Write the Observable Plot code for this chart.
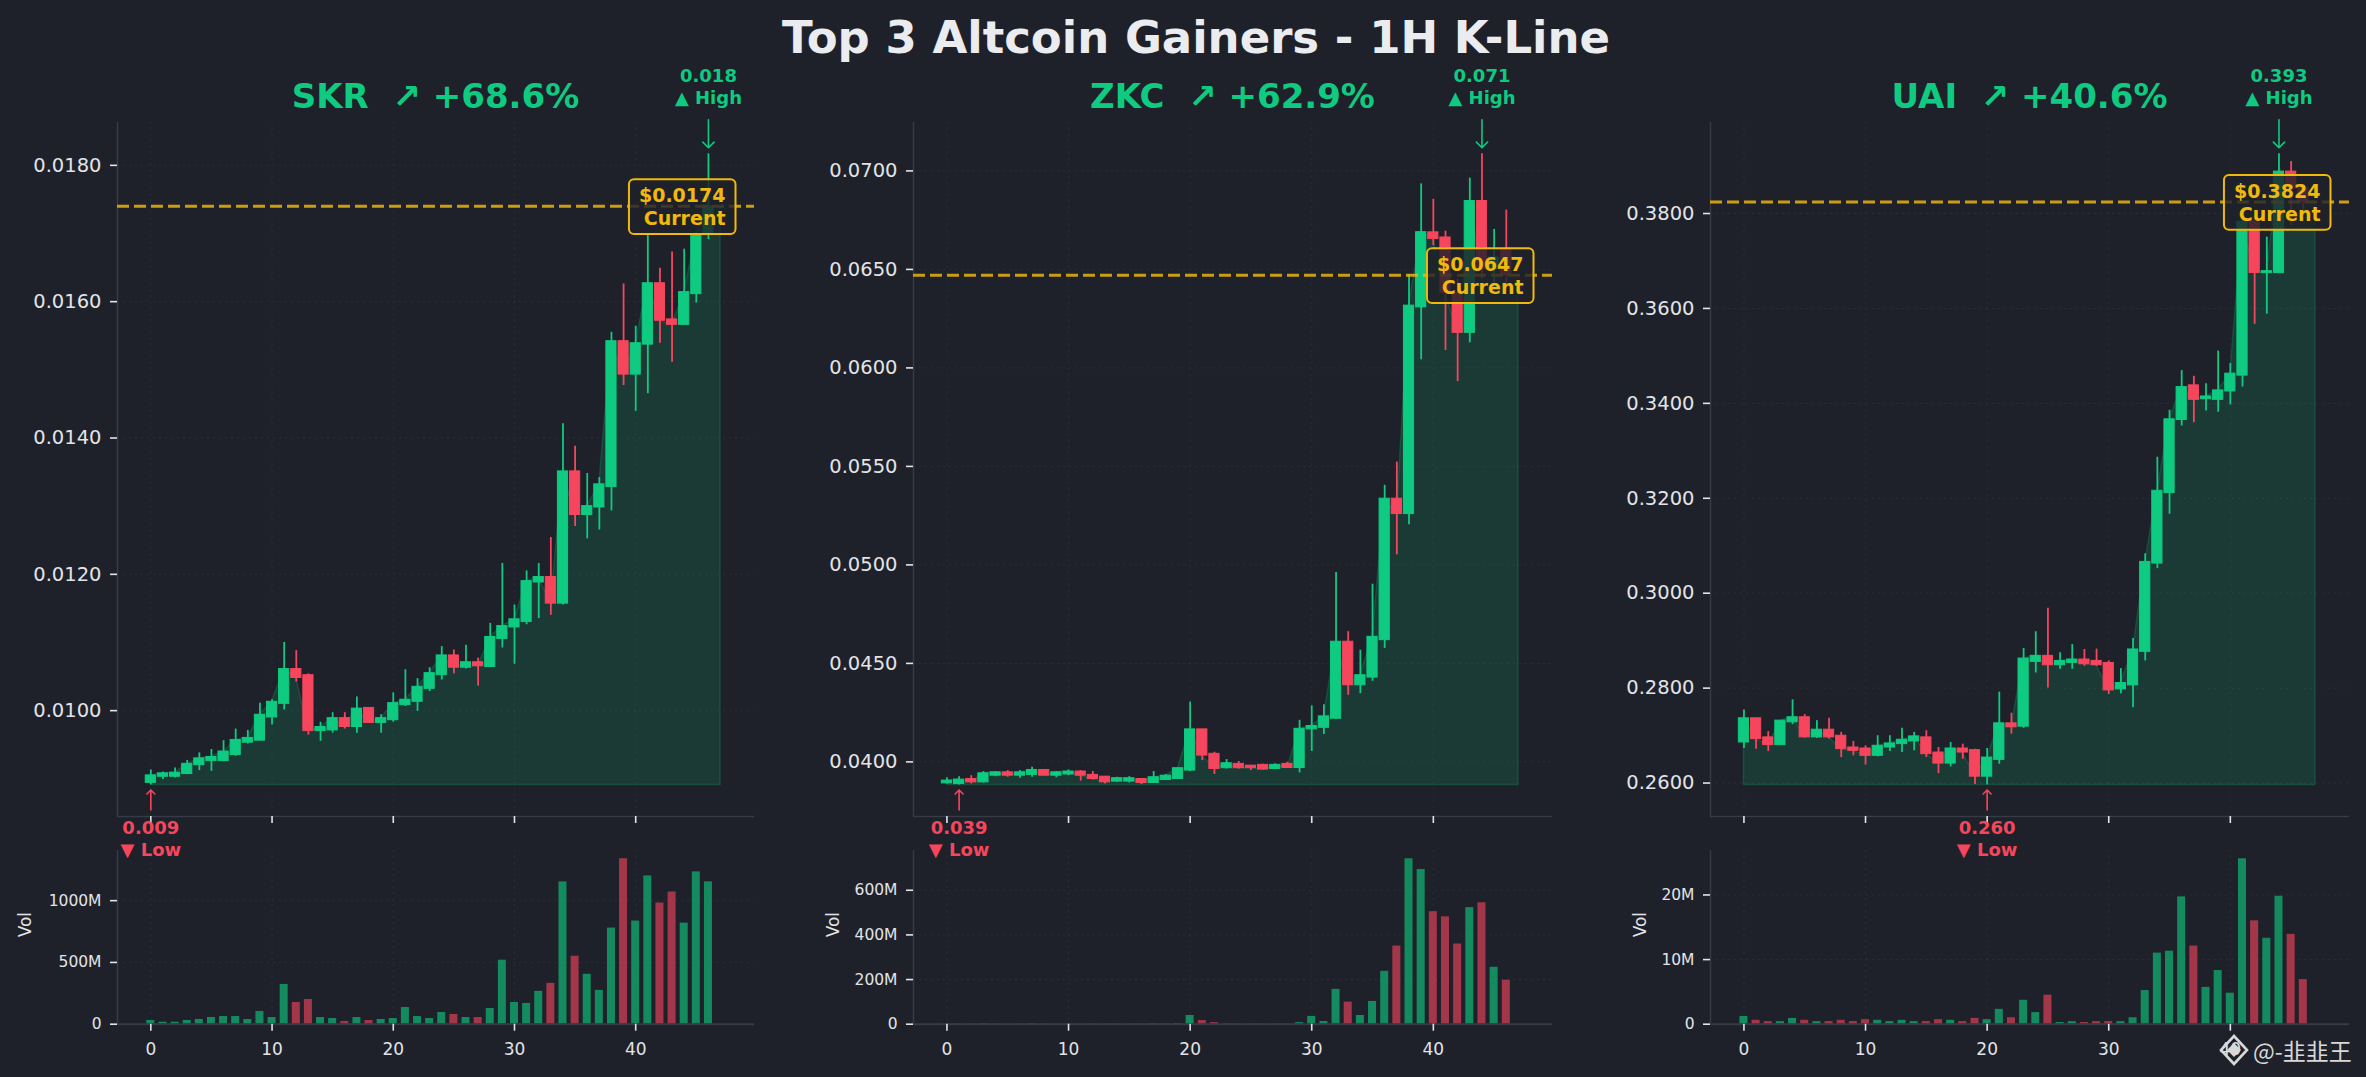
<!DOCTYPE html>
<html>
<head>
<meta charset="utf-8">
<script src="https://cdn.jsdelivr.net/npm/d3@7"></script>
<script src="https://cdn.jsdelivr.net/npm/@observablehq/plot@0.6"></script>
<style>
  html, body { margin: 0; padding: 0; background: #1e2129; }
  #root { position: relative; width: 2366px; height: 1077px; overflow: hidden; background: #1e2129; font-family: "DejaVu Sans", sans-serif; }
  .cell { position: absolute; overflow: visible; }
  #overlay { position: absolute; left: 0; top: 0; pointer-events: none; }
</style>
</head>
<body>
<div id="root"></div>
<script>
// ---------------- DATA ----------------
const chartTitle = "Top 3 Altcoin Gainers - 1H K-Line";
const coinNames = ["SKR", "ZKC", "UAI"];
const coinChanges = ["+68.6%", "+62.9%", "+40.6%"];
const xTicks = [0, 10, 20, 30, 40];

const skrOpen  = [0.00894,0.00903,0.00903,0.00907,0.00920,0.00926,0.00926,0.00935,0.00953,0.00956,0.00990,0.01010,0.01061,0.01052,0.00970,0.00971,0.00989,0.00976,0.01004,0.00982,0.00986,0.01008,0.01013,0.01032,0.01052,0.01081,0.01063,0.01071,0.01064,0.01105,0.01122,0.01130,0.01188,0.01196,0.01157,0.01351,0.01287,0.01298,0.01328,0.01542,0.01493,0.01537,0.01627,0.01574,0.01566,0.01611,0.01698];
const skrHigh  = [0.00913,0.00910,0.00916,0.00927,0.00938,0.00943,0.00956,0.00973,0.00971,0.01011,0.01016,0.01100,0.01088,0.01054,0.00983,0.00997,0.00997,0.01020,0.01004,0.00994,0.01026,0.01060,0.01047,0.01063,0.01094,0.01089,0.01096,0.01077,0.01128,0.01216,0.01155,0.01205,0.01216,0.01254,0.01421,0.01388,0.01348,0.01342,0.01555,0.01626,0.01564,0.01697,0.01649,0.01673,0.01677,0.01701,0.01817];
const skrLow   = [0.00891,0.00899,0.00901,0.00906,0.00912,0.00911,0.00925,0.00933,0.00951,0.00956,0.00979,0.01001,0.01042,0.00964,0.00955,0.00967,0.00973,0.00967,0.00981,0.00967,0.00983,0.01006,0.00999,0.01028,0.01045,0.01054,0.01061,0.01036,0.01064,0.01092,0.01068,0.01126,0.01135,0.01140,0.01155,0.01270,0.01252,0.01265,0.01293,0.01477,0.01439,0.01465,0.01539,0.01511,0.01566,0.01598,0.01691];
const skrClose = [0.00905,0.00908,0.00909,0.00922,0.00930,0.00932,0.00940,0.00957,0.00960,0.00994,0.01013,0.01061,0.01048,0.00970,0.00976,0.00989,0.00976,0.01003,0.00982,0.00989,0.01011,0.01016,0.01035,0.01055,0.01081,0.01063,0.01071,0.01065,0.01108,0.01124,0.01134,0.01190,0.01196,0.01157,0.01351,0.01287,0.01300,0.01332,0.01542,0.01493,0.01539,0.01627,0.01572,0.01566,0.01614,0.01698,0.01740];
const skrVol   = [30,16,16,30,38,54,62,62,38,103,54,322,176,200,54,46,22,54,30,38,46,135,62,46,95,79,54,54,127,518,176,168,266,331,1152,550,404,274,778,1339,835,1200,981,1070,818,1233,1152];
const skrPriceTicks = [0.010, 0.012, 0.014, 0.016, 0.018];
const skrVolTicks = [0, 500, 1000];

const zkcOpen  = [0.03891,0.03888,0.03913,0.03896,0.03930,0.03947,0.03930,0.03934,0.03959,0.03930,0.03936,0.03951,0.03934,0.03925,0.03900,0.03900,0.03913,0.03893,0.03908,0.03913,0.03956,0.04165,0.04041,0.03968,0.03990,0.03981,0.03985,0.03964,0.03990,0.03969,0.04165,0.04173,0.04219,0.04610,0.04389,0.04428,0.04618,0.05336,0.05258,0.06307,0.06688,0.06662,0.06380,0.06178,0.06847,0.06500,0.06600];
const zkcHigh  = [0.03919,0.03925,0.03930,0.03951,0.03951,0.03956,0.03956,0.03973,0.03959,0.03951,0.03959,0.03956,0.03951,0.03925,0.03922,0.03925,0.03913,0.03951,0.03936,0.03968,0.04304,0.04165,0.04049,0.04012,0.04002,0.03981,0.03988,0.03990,0.03998,0.04211,0.04284,0.04290,0.04961,0.04661,0.04567,0.04902,0.05404,0.05522,0.06473,0.06934,0.06856,0.06694,0.06450,0.06963,0.07087,0.06703,0.06801];
const zkcLow   = [0.03888,0.03883,0.03888,0.03893,0.03925,0.03922,0.03917,0.03922,0.03930,0.03919,0.03930,0.03902,0.03908,0.03888,0.03896,0.03893,0.03885,0.03891,0.03905,0.03913,0.03951,0.04007,0.03936,0.03964,0.03964,0.03956,0.03959,0.03961,0.03968,0.03944,0.04053,0.04139,0.04216,0.04338,0.04346,0.04409,0.04576,0.05051,0.05204,0.06041,0.06620,0.06088,0.05931,0.06127,0.06450,0.06400,0.06400];
const zkcClose = [0.03905,0.03910,0.03896,0.03942,0.03947,0.03930,0.03947,0.03959,0.03930,0.03947,0.03951,0.03930,0.03913,0.03896,0.03917,0.03917,0.03893,0.03922,0.03930,0.03968,0.04165,0.04032,0.03964,0.03993,0.03968,0.03968,0.03961,0.03985,0.03969,0.04168,0.04182,0.04231,0.04610,0.04389,0.04440,0.04635,0.05336,0.05258,0.06316,0.06689,0.06654,0.06380,0.06178,0.06847,0.06500,0.06560,0.06470];
const zkcVol   = [1,1,1,2,1,1,1,2,1,1,1,1,1,1,1,1,1,2,2,3,39,16,7,2,1,1,1,1,1,7,35,12,156,99,39,102,237,350,741,693,504,481,359,522,544,255,197];
const zkcPriceTicks = [0.040, 0.045, 0.050, 0.055, 0.060, 0.065, 0.070];
const zkcVolTicks = [0, 200, 400, 600];

const uaiOpen  = [0.26855,0.27364,0.26962,0.26799,0.27280,0.27386,0.26962,0.27124,0.26997,0.26749,0.26728,0.26573,0.26749,0.26820,0.26877,0.26962,0.26643,0.26410,0.26728,0.26693,0.26134,0.26488,0.27258,0.27188,0.28552,0.28680,0.28482,0.28531,0.28602,0.28573,0.28531,0.27973,0.28057,0.28764,0.30624,0.32109,0.33650,0.34379,0.34088,0.34074,0.34251,0.34584,0.37830,0.36743,0.36743,0.38883,0.38530];
const uaiHigh  = [0.27541,0.27364,0.27082,0.27315,0.27753,0.27442,0.27315,0.27364,0.27068,0.26877,0.26785,0.26997,0.26997,0.27152,0.27068,0.27103,0.26749,0.26855,0.26820,0.26714,0.26728,0.27916,0.27471,0.28835,0.29189,0.29683,0.28743,0.28920,0.28814,0.28821,0.28573,0.28411,0.29047,0.30829,0.32865,0.33855,0.34690,0.34570,0.34414,0.35101,0.34839,0.37897,0.37950,0.37503,0.39259,0.39095,0.38620];
const uaiLow   = [0.26728,0.26714,0.26665,0.26799,0.27230,0.26947,0.26940,0.26926,0.26537,0.26573,0.26382,0.26551,0.26665,0.26643,0.26679,0.26537,0.26198,0.26339,0.26502,0.25970,0.25960,0.26396,0.27032,0.27152,0.28319,0.28001,0.28397,0.28397,0.28460,0.28460,0.27866,0.27880,0.27584,0.28573,0.30518,0.31663,0.33522,0.33593,0.33841,0.33812,0.33968,0.34343,0.35665,0.35878,0.36743,0.37750,0.38000];
const uaiClose = [0.27364,0.26926,0.26799,0.27315,0.27386,0.26962,0.27124,0.26962,0.26714,0.26679,0.26573,0.26785,0.26834,0.26912,0.26983,0.26608,0.26410,0.26728,0.26643,0.26134,0.26537,0.27258,0.27174,0.28623,0.28680,0.28482,0.28573,0.28602,0.28503,0.28482,0.27951,0.28107,0.28814,0.30659,0.32158,0.33664,0.34343,0.34074,0.34145,0.34273,0.34626,0.37827,0.36748,0.36786,0.38883,0.38530,0.38240];
const uaiVol   = [1.2,0.6,0.4,0.4,0.9,0.6,0.4,0.4,0.6,0.4,0.7,0.6,0.4,0.6,0.4,0.4,0.7,0.6,0.4,0.9,0.7,2.3,1.0,3.7,1.8,4.5,0.26,0.4,0.26,0.4,0.4,0.4,1.0,5.2,11.0,11.3,19.7,12.1,5.7,8.3,4.8,25.6,16.0,13.3,19.8,13.9,6.9];
const uaiPriceTicks = [0.26, 0.28, 0.30, 0.32, 0.34, 0.36, 0.38];
const uaiVolTicks = [0, 10, 20];

// ---------------- STYLE / LAYOUT ----------------
const BG = "#1e2129", GREEN = "#0ecb81", RED = "#f6465d", GOLD = "#f0b90b";
const TXT = "#e2e4e8", SPINE = "#373b45", TITLE = "#eaecef";
const X_DOMAIN = [-2.75, 49.8];
const PRICE_TOP = 60, PRICE_H = 790, VOL_TOP = 850, VOL_H = 227;
const panels = [
  {left: 0,    width: 790, mL: 117, mR: 36, volLabelOff: 92},
  {left: 790,  width: 790, mL: 123, mR: 28, volLabelOff: 80},
  {left: 1580, width: 786, mL: 130, mR: 17, volLabelOff: 70}
];
const coins = [
  {open: skrOpen, high: skrHigh, low: skrLow, close: skrClose, vol: skrVol, priceTicks: skrPriceTicks, volTicks: skrVolTicks},
  {open: zkcOpen, high: zkcHigh, low: zkcLow, close: zkcClose, vol: zkcVol, priceTicks: zkcPriceTicks, volTicks: zkcVolTicks},
  {open: uaiOpen, high: uaiHigh, low: uaiLow, close: uaiClose, vol: uaiVol, priceTicks: uaiPriceTicks, volTicks: uaiVolTicks}
];

const root = document.getElementById("root");
const svgNS = "http://www.w3.org/2000/svg";
const baseStyle = {background: "transparent", color: TXT, fontFamily: "DejaVu Sans", overflow: "visible"};

function place(el, left, top, w, h) {
  const d = document.createElement("div");
  d.className = "cell";
  d.style.left = left + "px"; d.style.top = top + "px";
  d.style.width = w + "px"; d.style.height = h + "px";
  d.appendChild(el);
  root.appendChild(d);
}

function buildPanel(c, p) {
  const n = c.close.length;
  const rows = c.close.map((cl, i) => ({i, open: c.open[i], high: c.high[i], low: c.low[i], close: cl, vol: c.vol[i], up: cl >= c.open[i]}));
  const col = r => r.up ? GREEN : RED;
  const minLow = d3.min(c.low), maxHigh = d3.max(c.high);
  const pad = (maxHigh - minLow) * 0.05;
  const yDomain = [minLow - pad, maxHigh + pad];
  const hi = rows[d3.maxIndex(c.high)], lo = rows[d3.minIndex(c.low)];
  const current = c.close[n - 1];
  const areaRows = rows.map(r => ({x: r.i, y: r.close})).concat([{x: n, y: current}]);
  const grid = {stroke: "#ffffff", strokeOpacity: 0.06, strokeDasharray: "2,4"};

  const price = Plot.plot({
    width: p.width, height: PRICE_H,
    marginTop: 61.7, marginBottom: 34, marginLeft: p.mL, marginRight: p.mR,
    style: baseStyle,
    x: {domain: X_DOMAIN},
    y: {domain: yDomain},
    color: {type: "identity"},
    marks: [
      Plot.gridX(xTicks, grid),
      Plot.gridY(c.priceTicks, grid),
      Plot.areaY(areaRows, {x: "x", y1: minLow, y2: "y", fill: GREEN, fillOpacity: 0.15, stroke: GREEN, strokeOpacity: 0.2, strokeWidth: 1.5}),
      Plot.ruleX(rows, {x: "i", y1: "low", y2: "high", stroke: col, strokeWidth: 1.8}),
      Plot.rect(rows, {x1: r => r.i - 0.42, x2: r => r.i + 0.42, y1: "open", y2: "close", fill: col, stroke: col, strokeWidth: 1}),
      Plot.ruleX([X_DOMAIN[0]], {stroke: SPINE, strokeWidth: 1.5}),
      Plot.ruleY([yDomain[0]], {stroke: SPINE, strokeWidth: 1.5}),
      Plot.axisY({ticks: c.priceTicks, tickFormat: d3.format(".4f"), tickSize: 7, tickPadding: 9, fontSize: 19.5, color: TXT, strokeWidth: 1.6, label: null}),
      Plot.axisX({ticks: xTicks, tickFormat: () => "", tickSize: 7, color: TXT, strokeWidth: 1.6, label: null}),
      Plot.ruleY([current], {stroke: GOLD, strokeOpacity: 0.82, strokeWidth: 3, strokeDasharray: "12,5"}),
      Plot.vector([hi], {x: "i", y: "high", length: 28, rotate: 180, anchor: "end", stroke: GREEN, strokeWidth: 1.6, dy: -6}),
      Plot.text([hi], {x: "i", y: "high", text: d => d.high.toFixed(3) + "\n▲ High", lineAnchor: "bottom", lineHeight: 1.2, dy: -50, fill: GREEN, fontSize: 18, fontWeight: "bold"}),
      Plot.vector([lo], {x: "i", y: "low", length: 20, rotate: 0, anchor: "end", stroke: RED, strokeWidth: 1.6, dy: 5}),
      Plot.text([lo], {x: "i", y: "low", text: d => d.low.toFixed(3) + "\n▼ Low", lineAnchor: "top", lineHeight: 1.2, dy: 34, fill: RED, fontSize: 18, fontWeight: "bold"}),
      Plot.text([current], {y: d => d, frameAnchor: "right", text: d => "$" + d.toFixed(4) + "\nCurrent", textAnchor: "end", lineAnchor: "middle", lineHeight: 1.2, dx: -29, fill: GOLD, fontSize: 19, fontWeight: "bold"})
    ]
  });

  const vmax = d3.max(c.vol);
  const volume = Plot.plot({
    width: p.width, height: VOL_H,
    marginTop: 0, marginBottom: 53.3, marginLeft: p.mL, marginRight: p.mR,
    style: baseStyle,
    x: {domain: X_DOMAIN},
    y: {domain: [0, vmax * 1.05]},
    color: {type: "identity"},
    marks: [
      Plot.gridX(xTicks, grid),
      Plot.gridY(c.volTicks, grid),
      Plot.rect(rows, {x1: r => r.i - 0.33, x2: r => r.i + 0.33, y1: 0, y2: "vol", fill: col, fillOpacity: 0.62}),
      Plot.ruleX([X_DOMAIN[0]], {stroke: SPINE, strokeWidth: 1.5}),
      Plot.ruleY([0], {stroke: SPINE, strokeWidth: 2}),
      Plot.axisY({ticks: c.volTicks, tickFormat: d => d === 0 ? "0" : d + "M", tickSize: 7, tickPadding: 9, fontSize: 15.5, color: TXT, strokeWidth: 1.6, label: null}),
      Plot.axisX({ticks: xTicks, tickFormat: d3.format("d"), tickSize: 7, tickPadding: 12, fontSize: 17, color: TXT, strokeWidth: 1.6, label: null}),
      Plot.text(["Vol"], {text: d => d, frameAnchor: "left", rotate: -90, dx: -p.volLabelOff, fontSize: 17, fill: TXT})
    ]
  });

  place(price, p.left, PRICE_TOP, p.width, PRICE_H);
  place(volume, p.left, VOL_TOP, p.width, VOL_H);

  // frame box behind the "Current" label
  d3.select(price).selectAll("text").each(function () {
    if (!this.textContent.startsWith("$")) return;
    const bb = this.getBBox();
    const r = document.createElementNS(svgNS, "rect");
    r.setAttribute("x", bb.x - 10);
    r.setAttribute("y", bb.y - 5);
    r.setAttribute("width", bb.width + 20);
    r.setAttribute("height", bb.height + 10);
    r.setAttribute("rx", 5);
    r.setAttribute("fill", BG);
    r.setAttribute("fill-opacity", 0.82);
    r.setAttribute("stroke", GOLD);
    r.setAttribute("stroke-width", 2);
    const t = this.getAttribute("transform");
    if (t) r.setAttribute("transform", t);
    this.parentNode.insertBefore(r, this);
  });

  return {center: p.left + p.mL + (p.width - p.mL - p.mR) / 2};
}

const centers = coins.map((c, k) => buildPanel(c, panels[k]).center);

// ---------------- TITLES / WATERMARK ----------------
const ov = document.createElementNS(svgNS, "svg");
ov.setAttribute("id", "overlay");
ov.setAttribute("width", 2366);
ov.setAttribute("height", 1077);
root.appendChild(ov);
const o = d3.select(ov);
o.append("text").attr("x", 1196).attr("y", 53).attr("text-anchor", "middle")
  .attr("font-family", "DejaVu Sans").attr("font-weight", "bold").attr("font-size", 45)
  .attr("fill", TITLE).text(chartTitle);
coinNames.forEach((name, k) => {
  o.append("text").attr("x", centers[k]).attr("y", 108).attr("text-anchor", "middle")
    .attr("font-family", "DejaVu Sans").attr("font-weight", "bold").attr("font-size", 34)
    .attr("fill", GREEN).style("white-space", "pre").text(name + "  ↗ " + coinChanges[k]);
});
// watermark
const wm = o.append("g").attr("fill", "none").attr("stroke", "#d8d8d8");
wm.append("path").attr("d", "M2234,1036 L2247,1050 L2234,1064 L2221,1050 Z").attr("stroke-width", 2.6);
wm.append("path").attr("d", "M2234,1043 L2241,1050 L2234,1057 L2227,1050 Z").attr("fill", "#d8d8d8").attr("stroke", "none");
o.append("text").attr("x", 2253).attr("y", 1060).attr("font-family", "Noto Sans CJK SC")
  .attr("font-size", 23).attr("fill", "#d8d8d8").text("@-韭韭王");
</script>
</body>
</html>
